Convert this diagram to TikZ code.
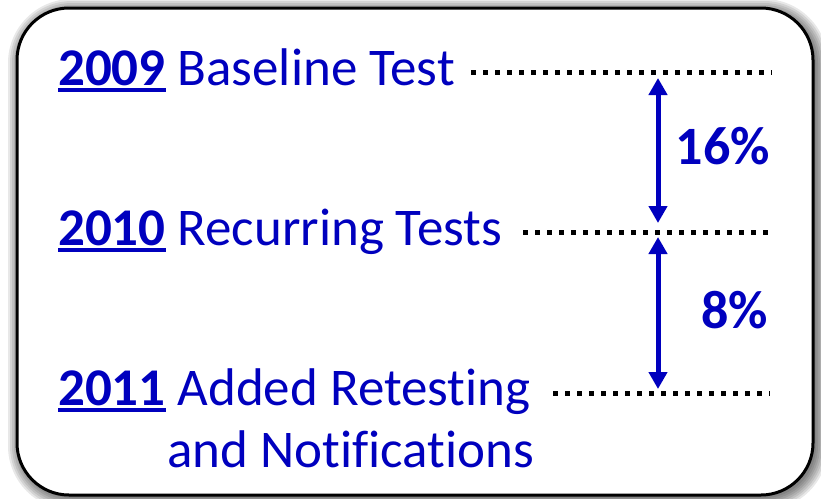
\documentclass[tikz,border=0pt]{standalone}
\usepackage{fontspec}
\setmainfont{Carlito}[Ligatures=NoCommon]
\usetikzlibrary{arrows.meta}
\definecolor{deepblue}{RGB}{0,0,190}
% bold year with thick underline
\newcommand\yr[1]{\setbox0\hbox{\bfseries #1}\rlap{\rule[-7pt]{\wd0}{4pt}}\box0\relax}
\tikzset{
  yeartext/.style={text=deepblue,inner sep=0pt,anchor=base west,font=\fontsize{53}{62}\selectfont},
  dots/.style={line width=5pt,dash pattern=on 5pt off 7pt},
  span/.style={deepblue,line width=5pt,{Triangle[width=18pt,length=17pt]}-{Triangle[width=18pt,length=17pt]}},
  pct/.style={text=deepblue,inner sep=0pt,anchor=base east,font=\fontsize{54}{62}\selectfont\bfseries},
}
\begin{document}
\begin{tikzpicture}[x=1pt,y=-1pt]
\useasboundingbox (0,0) rectangle (821,498);
% soft shadow of the card
\foreach \s in {0,2,...,12}
  \fill[black,opacity=0.09,rounded corners=52pt+\s] (20-\s,11-\s) rectangle (816+\s,498+\s);
\draw[line width=3pt,fill=white,rounded corners=52pt] (17,8) rectangle (813,495);
% the three years
\node[yeartext] (t1) at (58,85) {\yr{2009} Baseline Test};
\node[yeartext] (t2) at (58,245) {\yr{2010} Recurring Tests};
\node[yeartext] (t3) at (58,405) {\yr{2011} Added Retesting};
\node[yeartext] (t4) at (167,467) {and Notifications};
% dotted levels
\coordinate (d1s) at (471,72);
\coordinate (d1e) at (772,72);
\coordinate (d2s) at (523,232);
\coordinate (d2e) at (768,232);
\coordinate (d3s) at (553,393);
\coordinate (d3e) at (770,393);
\draw[dots] (d1s) -- (d1e);
\draw[dots] (d2s) -- (d2e);
\draw[dots] (d3s) -- (d3e);
% drops between the levels
\coordinate (a1t) at (658,78);
\coordinate (a1b) at (658,223);
\coordinate (a2t) at (658,237);
\coordinate (a2b) at (658,389);
\draw[span] (a1t) -- (a1b);
\draw[span] (a2t) -- (a2b);
\node[pct] (p1) at (770,164) {16\%};
\node[pct] (p2) at (768,328) {8\%};
\end{tikzpicture}
\end{document}
